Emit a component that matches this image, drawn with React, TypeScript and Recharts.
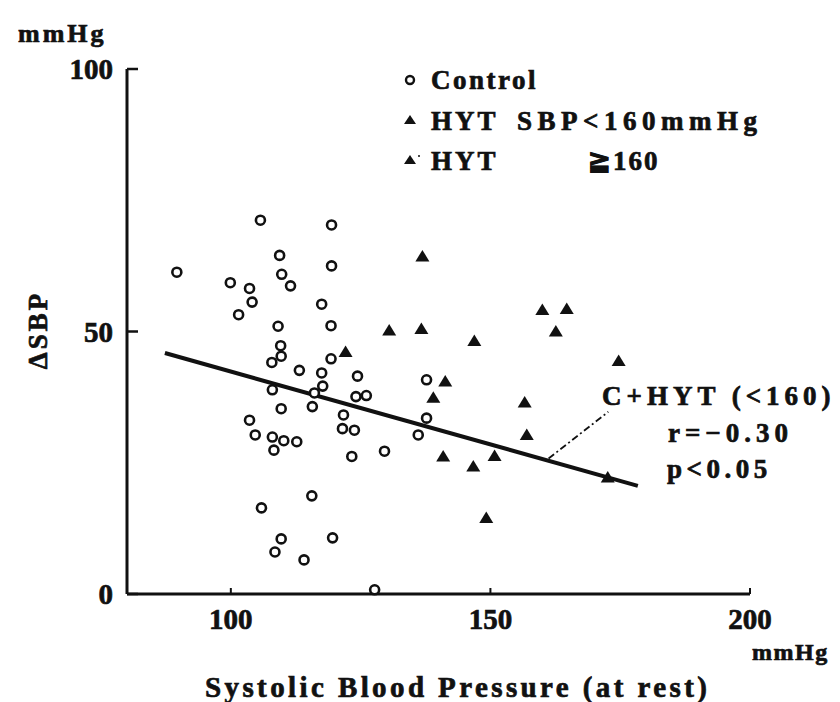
import React from 'react';
import { ScatterChart, Scatter, XAxis, YAxis, ReferenceLine } from 'recharts';

// Control subjects (SBP at rest, ΔSBP)
const controlX = [105.7, 119.4, 109.4, 119.4, 89.6, 99.9, 109.8, 111.5, 103.6, 104.1, 117.5, 101.5, 109.1, 119.3, 109.6, 109.7, 107.9, 119.3, 113.2, 117.5, 108.0, 116.1, 117.7, 115.7, 109.7, 103.6, 104.7, 108.0, 110.2, 112.7, 108.3, 115.6, 105.9, 119.6, 109.7, 108.5, 114.1, 127.7, 124.4, 124.1, 126.1, 121.7, 121.5, 123.8, 123.3, 129.6, 137.7, 137.7, 136.1];
const controlY = [71.2, 70.3, 64.5, 62.5, 61.3, 59.3, 60.9, 58.7, 58.2, 55.6, 55.2, 53.2, 51.0, 51.1, 47.3, 45.3, 44.1, 44.8, 42.6, 42.1, 38.9, 38.3, 39.6, 35.7, 35.3, 33.1, 30.3, 29.9, 29.2, 29.0, 27.4, 18.7, 16.4, 10.7, 10.5, 8.0, 6.5, 0.8, 41.5, 37.6, 37.8, 34.1, 31.5, 31.2, 26.2, 27.2, 40.8, 33.5, 30.3];

// HYT, SBP < 160
const hytLowX = [136.9, 130.5, 136.7, 146.9, 122.1, 141.3, 139.0, 156.6, 157.0, 140.9, 146.7, 150.8, 149.2];
const hytLowY = [64.3, 50.2, 50.5, 48.2, 46.1, 40.5, 37.4, 36.5, 30.3, 26.2, 24.3, 26.3, 14.5];

// HYT, SBP >= 160
const hytHighX = [160.0, 164.7, 162.6, 174.7, 172.6];
const hytHighY = [54.1, 54.3, 50.0, 44.4, 22.2];

// regression C+HYT(<160), r=-0.30
const fitX = [87.3, 178.4];
const fitY = [45.9, 20.6];
const leaderX = [161.2, 172.7];
const leaderY = [25.8, 34.7];

const xTicks = [100, 150, 200];
const yTicks = [0, 50, 100];

const zip = (xs: number[], ys: number[]) => xs.map((x, i) => ({ x, y: ys[i] }));
const control = zip(controlX, controlY);
const hytLow = zip(hytLowX, hytLowY);
const hytHigh = zip(hytHighX, hytHighY);

const FONT = '"Liberation Serif", "DejaVu Serif", serif';
const txt = {
  fontFamily: FONT,
  fontWeight: 'bold' as const,
  fill: '#111',
  stroke: '#111',
  strokeWidth: 0.7,
};

const OpenCircle = (p: any) => (
  <circle cx={p.cx} cy={p.cy} r={4.5} fill="#fff" stroke="#111" strokeWidth={2.6} />
);
const Tri = (p: any) => (
  <path d={`M${p.cx},${p.cy - 6.5} L${p.cx + 7},${p.cy + 5} L${p.cx - 7},${p.cy + 5} Z`} fill="#111" />
);

export default function App() {
  return (
    <div style={{ position: 'absolute', left: 0, top: 0, width: 840, height: 702, background: '#fff' }}>
      <ScatterChart width={840} height={702} margin={{ top: 69, right: 90, bottom: 78, left: 67 }}>
        <XAxis
          type="number"
          dataKey="x"
          domain={[80, 200]}
          ticks={xTicks}
          height={30}
          axisLine={{ stroke: '#111', strokeWidth: 3.2 }}
          tickLine={{ stroke: '#111', strokeWidth: 2 }}
          tickSize={-6}
          tickMargin={20}
          tick={{ ...txt, fontSize: 29 }}
          allowDataOverflow
        />
        <YAxis
          type="number"
          dataKey="y"
          domain={[0, 100]}
          ticks={yTicks}
          width={60}
          axisLine={{ stroke: '#111', strokeWidth: 3 }}
          tickLine={{ stroke: '#111', strokeWidth: 2.5 }}
          tickSize={-11}
          tickMargin={25}
          tick={{ ...txt, fontSize: 29 }}
        />
        <ReferenceLine
          segment={[{ x: fitX[0], y: fitY[0] }, { x: fitX[1], y: fitY[1] }]}
          stroke="#111"
          strokeWidth={4}
          ifOverflow="visible"
        />
        <ReferenceLine
          segment={[{ x: leaderX[0], y: leaderY[0] }, { x: leaderX[1], y: leaderY[1] }]}
          stroke="#111"
          strokeWidth={1.8}
          strokeDasharray="7 3 2 3"
          ifOverflow="visible"
        />
        <Scatter name="Control" data={control} shape={OpenCircle} isAnimationActive={false} />
        <Scatter name="HYT SBP<160mmHg" data={hytLow} shape={Tri} isAnimationActive={false} />
        <Scatter name="HYT ≧160" data={hytHigh} shape={Tri} isAnimationActive={false} />
      </ScatterChart>
      <svg
        width={840}
        height={702}
        style={{ position: 'absolute', left: 0, top: 0, pointerEvents: 'none' }}
      >
        <text x={18} y={42} fontSize={26} letterSpacing={3} {...txt}>mmHg</text>
        <text
          x={0}
          y={0}
          fontSize={27}
          letterSpacing={3}
          textAnchor="middle"
          transform="translate(47,330) rotate(-90)"
          {...txt}
        >
          ΔSBP
        </text>
        <g transform="translate(398,61)">
          <circle cx={12} cy={19} r={4} fill="#fff" stroke="#111" strokeWidth={2.4} />
          <text x={33} y={28} fontSize={27} letterSpacing={2.5} {...txt}>Control</text>
          <path d="M12,54 L18,63 L6,63 Z" fill="#111" />
          <text x={33} y={69} fontSize={27} letterSpacing={3} {...txt}>HYT</text>
          <text x={119} y={69} fontSize={27} letterSpacing={5.5} {...txt}>SBP&lt;160mmHg</text>
          <path d="M12,94 L18,103 L6,103 Z" fill="#111" />
          <circle cx={21} cy={95} r={1} fill="#111" />
          <text x={33} y={109} fontSize={27} letterSpacing={3} {...txt}>HYT</text>
          <text x={190} y={109} fontSize={27} letterSpacing={2} {...txt}>≧160</text>
        </g>
        <text x={752} y={660} fontSize={24} letterSpacing={1.5} {...txt}>mmHg</text>
        <text x={205} y={697} fontSize={29} letterSpacing={3.4} {...txt}>
          Systolic Blood Pressure (at rest)
        </text>
        <text x={602} y={405} fontSize={27} letterSpacing={5} {...txt}>C+HYT (&lt;160)</text>
        <text x={668} y={442} fontSize={27} letterSpacing={5} {...txt}>r=−0.30</text>
        <text x={667} y={478} fontSize={27} letterSpacing={4.5} {...txt}>p&lt;0.05</text>
      </svg>
    </div>
  );
}
